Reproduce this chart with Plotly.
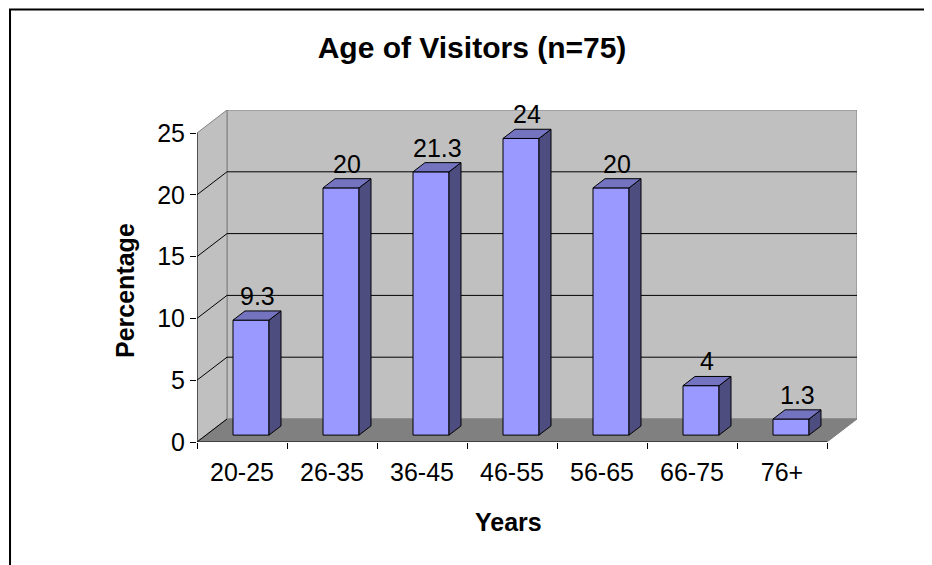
import plotly.graph_objects as go

# data
categories = ["20-25", "26-35", "36-45", "46-55", "56-65", "66-75", "76+"]
percent = [9.3, 20, 21.3, 24, 20, 4, 1.3]
y_ticks = [0, 5, 10, 15, 20, 25]

# fake 3d box: depth of the floor in axis units
DX = 1 / 3
DY = 1.861
BAR_L, BAR_R = 0.3, 0.7      # bar width inside a category slot
BAR_F, BAR_B = 0.3, 0.7      # bar depth inside the box
FONT = "Arial, Liberation Sans, sans-serif"
PAGE = 8                     # browser body margin

n = len(categories)
ytop = y_ticks[-1]

fig = go.Figure()

# front faces of the bars
fig.add_trace(go.Bar(
    x=[i + 0.5 + BAR_F * DX for i in range(n)],
    y=percent,
    base=BAR_F * DY,
    width=BAR_R - BAR_L,
    marker=dict(color="#9999ff", line=dict(color="black", width=1)),
    hoverinfo="skip",
))

# side and top faces
for i, v in enumerate(percent):
    xl = i + BAR_L
    xr = i + BAR_R
    side_x = [xr + BAR_F * DX, xr + BAR_B * DX, xr + BAR_B * DX, xr + BAR_F * DX, xr + BAR_F * DX]
    side_y = [BAR_F * DY, BAR_B * DY, v + BAR_B * DY, v + BAR_F * DY, BAR_F * DY]
    top_x = [xl + BAR_F * DX, xr + BAR_F * DX, xr + BAR_B * DX, xl + BAR_B * DX, xl + BAR_F * DX]
    top_y = [v + BAR_F * DY, v + BAR_F * DY, v + BAR_B * DY, v + BAR_B * DY, v + BAR_F * DY]
    fig.add_trace(go.Scatter(x=side_x, y=side_y, fill="toself", fillcolor="#4d4d80",
                             mode="lines", line=dict(color="black", width=1), hoverinfo="skip"))
    fig.add_trace(go.Scatter(x=top_x, y=top_y, fill="toself", fillcolor="#7373bf",
                             mode="lines", line=dict(color="black", width=1), hoverinfo="skip"))

# value labels
for i, v in enumerate(percent):
    fig.add_annotation(x=i + 0.5 + 0.5 * DX, y=v + BAR_B * DY, text=f"{v:g}",
                       showarrow=False, yanchor="bottom", yshift=-1,
                       font=dict(size=25, color="black", family=FONT))

# walls and floor
shapes = [
    dict(type="path", path=f"M {DX},{DY} L {n + DX},{DY} L {n + DX},{ytop + DY} L {DX},{ytop + DY} Z",
         fillcolor="#c0c0c0", line=dict(color="#808080", width=1)),
    dict(type="path", path=f"M 0,0 L {DX},{DY} L {DX},{ytop + DY} L 0,{ytop} Z",
         fillcolor="#c0c0c0", line=dict(color="#808080", width=1)),
    dict(type="path", path=f"M 0,0 L {n},0 L {n + DX},{DY} L {DX},{DY} Z",
         fillcolor="#808080", line=dict(color="#808080", width=1)),
]
for t in y_ticks[:-1]:
    shapes.append(dict(type="line", x0=0, y0=t, x1=DX, y1=t + DY, line=dict(color="black", width=1)))
    if t > 0:
        shapes.append(dict(type="line", x0=DX, y0=t + DY, x1=n + DX, y1=t + DY,
                           line=dict(color="black", width=1)))
# axis lines
shapes.append(dict(type="line", x0=0, y0=0, x1=0, y1=ytop, line=dict(color="black", width=1)))
shapes.append(dict(type="line", x0=0, y0=0, x1=n, y1=0, line=dict(color="black", width=1)))
for s in shapes:
    s.update(xref="x", yref="y", layer="below")

# outer chart frame
shapes.append(dict(type="rect", xref="paper", yref="paper", x0=-0.2833, x1=2, y0=-1, y1=1.3027,
                   line=dict(color="black", width=2), fillcolor="rgba(0,0,0,0)"))

W, H = 932 - PAGE, 565 - PAGE
fig.update_layout(
    width=W, height=H,
    margin=dict(l=197 - PAGE, r=75, t=110 - PAGE, b=123),
    paper_bgcolor="white", plot_bgcolor="white",
    showlegend=False,
    shapes=shapes,
    font=dict(family=FONT, size=25, color="black"),
    title=dict(text="Age of Visitors (n=75)", x=(472 - PAGE) / W, y=1 - (47 - PAGE) / H,
               xref="container", yref="container", xanchor="center", yanchor="middle",
               font=dict(size=30, weight="bold", family=FONT)),
    xaxis=dict(range=[0, n + DX], tickvals=[i + 0.5 for i in range(n)], ticktext=categories,
               ticks="", showgrid=False, zeroline=False, showline=False,
               ticklabelstandoff=13,
               minor=dict(tickvals=list(range(n + 1)), ticks="outside", ticklen=6,
                          tickcolor="black", showgrid=False),
               fixedrange=True),
    yaxis=dict(range=[0, ytop + DY], tickvals=y_ticks, ticks="outside", ticklen=6,
               tickcolor="black", showgrid=False, zeroline=False, showline=False,
               fixedrange=True),
)

fig.add_annotation(x=(508 - 197) / 660, y=(442 - 522) / 332, xref="paper", yref="paper",
                   text="Years", showarrow=False, xanchor="center", yanchor="middle",
                   font=dict(size=25, weight="bold", family=FONT))
fig.add_annotation(x=(125 - 197) / 660, y=(442 - 291) / 332, xref="paper", yref="paper",
                   text="Percentage", showarrow=False, textangle=-90,
                   xanchor="center", yanchor="middle",
                   font=dict(size=25, weight="bold", family=FONT))

fig.write_html("out.html")
